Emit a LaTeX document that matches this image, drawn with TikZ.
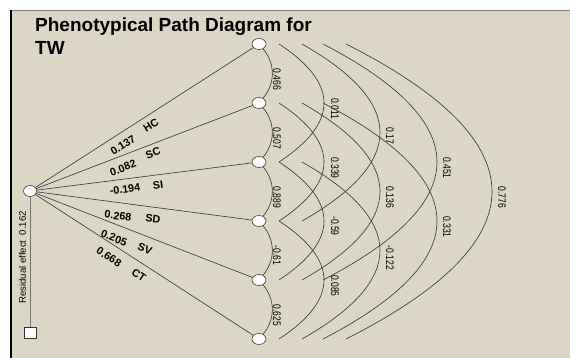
\documentclass[tikz,border=0pt]{standalone}
\usepackage{fontspec}
\setmainfont{Liberation Sans}
\newfontfamily\narrowfont[FakeStretch=0.78]{Liberation Sans}
\usetikzlibrary{shapes.geometric}
\definecolor{bgbeige}{RGB}{220,214,199}
\definecolor{lnc}{RGB}{60,60,60}
\definecolor{nodec}{RGB}{80,80,80}
\begin{document}
\begin{tikzpicture}[x=1pt,y=1pt,
  vnode/.style={ellipse, draw=nodec, fill=white, line width=0.7pt, minimum width=14pt, minimum height=11pt, inner sep=0pt},
  sqnode/.style={rectangle, draw=black!80, fill=white, line width=0.7pt, minimum width=12pt, minimum height=11pt, inner sep=0pt},
  conn/.style={draw=lnc, line width=0.65pt},
  arclab/.style={font=\narrowfont\fontsize{11}{12}\selectfont, rotate=-90, anchor=west, inner sep=0pt},
  elab/.style={font=\bfseries\fontsize{10.8}{12}\selectfont, inner sep=0pt},
  ttl/.style={anchor=base west, font=\bfseries\fontsize{19}{23}\selectfont, inner sep=0pt}
]
\useasboundingbox (0,0) rectangle (570,358);
\fill[white] (0,0) rectangle (570,358);
\fill[bgbeige] (11,0) rectangle (570,348);
\draw[gray, line width=0.8pt] (11,348) -- (570,348);
\draw[black, line width=1.2pt] (11,0) -- (11,348.4);

% title
\node[ttl] (t1) at (35,326.3) {Phenotypical Path Diagram for};
\node[ttl] (t2) at (35,303) {TW};

% nodes
\node[vnode, minimum width=13pt] (L) at (30,167) {};
\node[vnode] (r1) at (259,314) {};
\node[vnode] (r2) at (259,255) {};
\node[vnode] (r3) at (259,196) {};
\node[vnode] (r4) at (259,137) {};
\node[vnode] (r5) at (259,78) {};
\node[vnode] (r6) at (259,19) {};
\node[sqnode] (sq) at (30,25) {};

% residual
\draw[draw=gray!90!black, line width=0.9pt] (L) -- (sq);
\node[rotate=90, font=\fontsize{9.6}{11}\selectfont, inner sep=0pt] (res) at (22.5,100.5) {Residual effect\ \ 0.162};

% fan
\draw[conn] (L) -- (r1);
\draw[conn] (L) -- (r2);
\draw[conn] (L) -- (r3);
\draw[conn] (L) -- (r4);
\draw[conn] (L) -- (r5);
\draw[conn] (L) -- (r6);

% fan labels
\node[elab, rotate=32.7] (hcn) at (123,213) {0.137};
\node[elab, rotate=32.7] (hcl) at (151,233) {HC};
\node[elab, rotate=21.0] (scn) at (123,190) {0.082};
\node[elab, rotate=21.0] (scl) at (153,205) {SC};
\node[elab, rotate=7.2] (sin) at (125,169) {-0.194};
\node[elab, rotate=7.2] (sil) at (158,173) {SI};
\node[elab, rotate=-7.5] (sdn) at (118,142) {0.268};
\node[elab, rotate=-7.5] (sdl) at (153,139) {SD};
\node[elab, rotate=-21.2] (svn) at (114,120) {0.205};
\node[elab, rotate=-21.2] (svl) at (145,109) {SV};
\node[elab, rotate=-32.9] (ctn) at (109,101) {0.668};
\node[elab, rotate=-32.9] (ctl) at (139,83) {CT};

% adjacent arcs
\draw[conn] (r1) to[bend left=40] (r2);
\draw[conn] (r2) to[bend left=40] (r3);
\draw[conn] (r3) to[bend left=40] (r4);
\draw[conn] (r4) to[bend left=40] (r5);
\draw[conn] (r5) to[bend left=40] (r6);
\node[arclab] (l12) at (277,289.5) {0.466};
\node[arclab] (l23) at (277,230.5) {0.507};
\node[arclab] (l34) at (277,171.5) {0.889};
\node[arclab] (l45) at (277,112.5) {-0.61};
\node[arclab] (l56) at (277,53.5) {0.625};

% span-2 arcs
\coordinate (a13s) at (279,314); \coordinate (a13e) at (279,196);
\coordinate (a24s) at (279,255); \coordinate (a24e) at (279,137);
\coordinate (a35s) at (279,196); \coordinate (a35e) at (279,78);
\coordinate (a46s) at (279,137); \coordinate (a46e) at (279,19);
\draw[conn] (a13s) .. controls +(60,-39.33) and +(60,39.33) .. (a13e);
\draw[conn] (a24s) .. controls +(60,-39.33) and +(60,39.33) .. (a24e);
\draw[conn] (a35s) .. controls +(60,-39.33) and +(60,39.33) .. (a35e);
\draw[conn] (a46s) .. controls +(60,-39.33) and +(60,39.33) .. (a46e);
\node[arclab] (l13) at (335,260) {0.011};
\node[arclab] (l24) at (335,201) {0.339};
\node[arclab] (l35) at (335,142) {-0.59};
\node[arclab] (l46) at (335,83) {0.085};

% span-3 arcs
\coordinate (a14s) at (302,314); \coordinate (a14e) at (302,137);
\coordinate (a25s) at (302,255); \coordinate (a25e) at (302,78);
\coordinate (a36s) at (302,196); \coordinate (a36e) at (302,19);
\draw[conn] (a14s) .. controls +(104,-59) and +(104,59) .. (a14e);
\draw[conn] (a25s) .. controls +(104,-59) and +(104,59) .. (a25e);
\draw[conn] (a36s) .. controls +(104,-59) and +(104,59) .. (a36e);
\node[arclab] (l14) at (390,230.5) {0.17};
\node[arclab] (l25) at (390,171.5) {0.136};
\node[arclab] (l36) at (390,112.5) {-0.122};

% span-4 arcs
\coordinate (a15s) at (323,314); \coordinate (a15e) at (323,78);
\coordinate (a26s) at (323,255); \coordinate (a26e) at (323,19);
\draw[conn] (a15s) .. controls +(152,-78.67) and +(152,78.67) .. (a15e);
\draw[conn] (a26s) .. controls +(152,-78.67) and +(152,78.67) .. (a26e);
\node[arclab] (l15) at (447,201) {0.451};
\node[arclab] (l26) at (447,142) {0.331};

% span-5 arc
\coordinate (a16s) at (346,314); \coordinate (a16e) at (346,19);
\draw[conn] (a16s) .. controls +(194.67,-98.33) and +(194.67,98.33) .. (a16e);
\node[arclab] (l16) at (502,171.5) {0.776};
\end{tikzpicture}
\end{document}
